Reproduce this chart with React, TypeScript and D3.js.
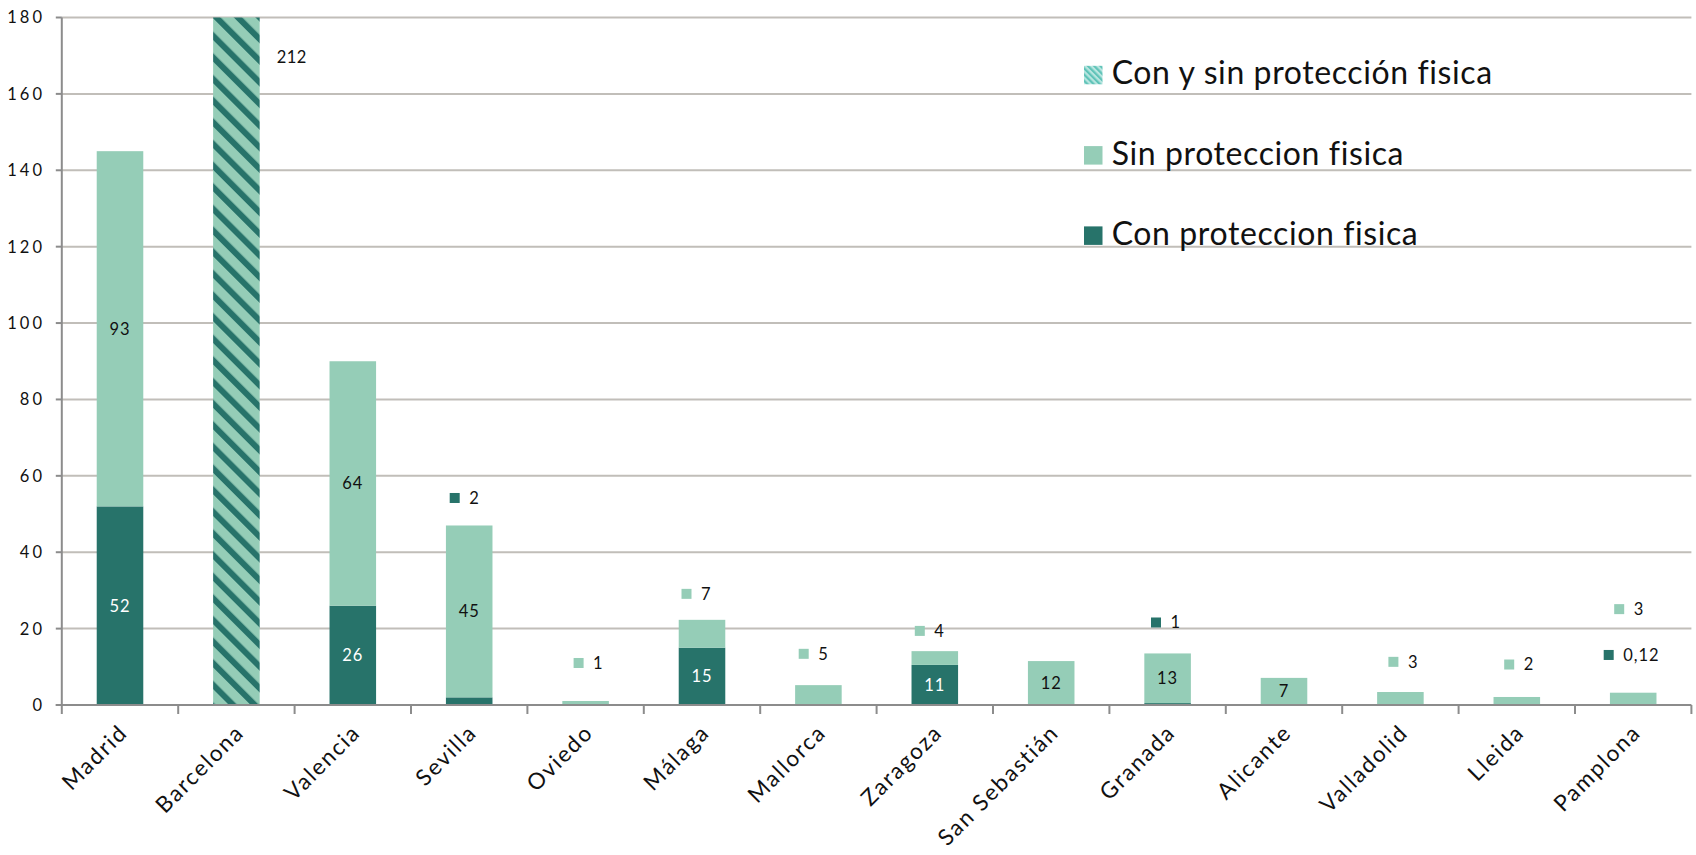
import React from "react";
import * as d3 from "d3";

const categories = ["Madrid", "Barcelona", "Valencia", "Sevilla", "Oviedo", "Málaga", "Mallorca", "Zaragoza", "San Sebastián", "Granada", "Alicante", "Valladolid", "Lleida", "Pamplona"];
const conProteccion = [52, 0, 26, 2, 0, 15, 0, 10.5, 0, 0.5, 0, 0, 0, 0.12];
const sinProteccion = [93, 0, 64, 45, 1.05, 7.3, 5.2, 3.6, 11.5, 13, 7.1, 3.4, 2.1, 3.1];
const conYSinProteccion = [0, 212, 0, 0, 0, 0, 0, 0, 0, 0, 0, 0, 0, 0];
const conLabels = ["52", "", "26", "2", "", "15", "", "11", "", "1", "", "", "", "0,12"];
const sinLabels = ["93", "", "64", "45", "1", "7", "5", "4", "12", "13", "7", "3", "2", "3"];
const conYSinLabels = ["", "212", "", "", "", "", "", "", "", "", "", "", "", ""];
const yTicks = [0, 20, 40, 60, 80, 100, 120, 140, 160, 180];
const seriesNames = ["Con y sin protección fisica", "Sin proteccion fisica", "Con proteccion fisica"];

// labels placed outside the bars (Excel "legend key" labels): y in data units, dx in px from bar centre
const outsidePlacement = [
  { cat: "Sevilla", series: "con", y: 54.2, dx: -14.5 },
  { cat: "Oviedo", series: "sin", y: 11.0, dx: -7 },
  { cat: "Málaga", series: "sin", y: 29.1, dx: -15.5 },
  { cat: "Mallorca", series: "sin", y: 13.4, dx: -14.7 },
  { cat: "Zaragoza", series: "sin", y: 19.4, dx: -15 },
  { cat: "Granada", series: "con", y: 21.6, dx: -11.6 },
  { cat: "Valladolid", series: "sin", y: 11.3, dx: -7 },
  { cat: "Lleida", series: "sin", y: 10.6, dx: -7.6 },
  { cat: "Pamplona", series: "sin", y: 25.1, dx: -14 },
  { cat: "Pamplona", series: "con", y: 13.1, dx: -24.5 },
];

const W = 1696;
const H = 855;
const DARK = "#27736a";
const LIGHT = "#95cdb7";
const GRID = "#c1beb9";
const AXIS = "#8c8c8c";
const FONT = "Lato, 'DejaVu Sans', sans-serif";

export default function App() {
  const left = 61.8;
  const right = 1691.4;
  const y0 = 705;
  const yTop = 17.5;

  const x = d3.scaleBand<string>().domain(categories).range([left, right]).paddingInner(0.6).paddingOuter(0.3);
  const y = d3.scaleLinear().domain([0, 180]).range([y0, yTop]);
  const step = x.step();
  const bw = x.bandwidth();
  const cx = (c: string) => (x(c) as number) + bw / 2;

  const isOutside = (cat: string, series: string) => outsidePlacement.some((p) => p.cat === cat && p.series === series);

  const boundaries = d3.range(categories.length + 1).map((k) => left + k * step);

  return (
    <div style={{ position: "fixed", left: 0, top: 0, width: W, height: H, background: "#fff" }}>
      <svg width={W} height={H} style={{ display: "block" }} fontFamily={FONT}>
        <defs>
          <pattern id="hatch" width={15.3} height={15.3} patternUnits="userSpaceOnUse" patternTransform="rotate(-45)">
            <rect width={15.3} height={15.3} fill={LIGHT} />
            <rect width={6} height={15.3} fill={DARK} />
          </pattern>
          <pattern id="hatchLegend" width={4.4} height={4.4} patternUnits="userSpaceOnUse" patternTransform="rotate(-45)">
            <rect width={4.4} height={4.4} fill="#b9e6e0" />
            <rect width={2.2} height={4.4} fill="#5fc3b8" />
          </pattern>
          <clipPath id="plotClip">
            <rect x={left} y={yTop} width={right - left} height={y0 - yTop} />
          </clipPath>
        </defs>

        {/* gridlines */}
        {yTicks.filter((t) => t > 0).map((t) => (
          <line key={t} x1={left} x2={right} y1={y(t)} y2={y(t)} stroke={GRID} strokeWidth={2} />
        ))}

        {/* y tick labels */}
        {yTicks.map((t) => (
          <g key={"yt" + t}>
            <line x1={left - 6} x2={left} y1={y(t)} y2={y(t)} stroke={AXIS} strokeWidth={2} />
            <text x={45} y={y(t)} dy="0.36em" textAnchor="end" fontSize={16.5} letterSpacing={3} fill="#111">
              {t}
            </text>
          </g>
        ))}

        {/* bars */}
        <g clipPath="url(#plotClip)">
          {categories.map((c, i) => {
            const bx = x(c) as number;
            const con = conProteccion[i];
            const sin = sinProteccion[i];
            const both = conYSinProteccion[i];
            return (
              <g key={"b" + c}>
                {con > 0 && <rect x={bx} width={bw} y={y(con)} height={y(0) - y(con)} fill={DARK} />}
                {sin > 0 && <rect x={bx} width={bw} y={y(con + sin)} height={y(con) - y(con + sin)} fill={LIGHT} />}
                {both > 0 && <rect x={bx} width={bw} y={y(both)} height={y(0) - y(both)} fill="url(#hatch)" />}
              </g>
            );
          })}
        </g>

        {/* axes */}
        <line x1={left} x2={left} y1={yTop} y2={y0} stroke={AXIS} strokeWidth={2} />
        <line x1={left - 6} x2={right} y1={y0} y2={y0} stroke={AXIS} strokeWidth={2} />
        {boundaries.map((bxv, k) => (
          <line key={"xt" + k} x1={bxv} x2={bxv} y1={y0} y2={y0 + 9} stroke={AXIS} strokeWidth={2} />
        ))}

        {/* category labels */}
        {categories.map((c) => (
          <text
            key={"cl" + c}
            transform={`translate(${cx(c) + 9},${734}) rotate(-45)`}
            textAnchor="end"
            fontSize={22.5}
            letterSpacing={1.8}
            fill="#111"
          >
            {c}
          </text>
        ))}

        {/* inside data labels */}
        {categories.map((c, i) => {
          const con = conProteccion[i];
          const sin = sinProteccion[i];
          const out: React.ReactNode[] = [];
          if (conLabels[i] && !isOutside(c, "con")) {
            out.push(
              <text key={"ci" + c} x={cx(c)} y={y(con / 2)} dy="0.36em" textAnchor="middle" fontSize={16.5} letterSpacing={1} fill="#fff">
                {conLabels[i]}
              </text>
            );
          }
          if (sinLabels[i] && !isOutside(c, "sin")) {
            out.push(
              <text key={"si" + c} x={cx(c)} y={y(con + sin / 2)} dy="0.36em" textAnchor="middle" fontSize={16.5} letterSpacing={1} fill="#111">
                {sinLabels[i]}
              </text>
            );
          }
          if (conYSinLabels[i]) {
            out.push(
              <text key={"bi" + c} x={cx(c) + 40.3} y={y(169.6)} dy="0.36em" textAnchor="start" fontSize={16.5} letterSpacing={0.5} fill="#111">
                {conYSinLabels[i]}
              </text>
            );
          }
          return <g key={"il" + c}>{out}</g>;
        })}

        {/* outside data labels with legend key */}
        {outsidePlacement.map((p) => {
          const i = categories.indexOf(p.cat);
          const label = p.series === "con" ? conLabels[i] : sinLabels[i];
          const sx = cx(p.cat) + p.dx;
          const sy = y(p.y);
          return (
            <g key={"ol" + p.cat + p.series}>
              <rect x={sx - 5} y={sy - 5} width={10} height={10} fill={p.series === "con" ? DARK : LIGHT} />
              <text x={sx + 14.5} y={sy} dy="0.36em" fontSize={16.5} letterSpacing={1} fill="#111">
                {label}
              </text>
            </g>
          );
        })}

        {/* legend */}
        {seriesNames.map((s, k) => {
          const base = 84.3 + k * 80.3;
          const fill = k === 0 ? "url(#hatchLegend)" : k === 1 ? LIGHT : DARK;
          return (
            <g key={"lg" + k}>
              <rect x={1084} y={base - 18.5} width={18.5} height={18.5} fill={fill} />
              <text x={1111.7} y={base} fontSize={32} letterSpacing={0.6} fill="#111">
                {s}
              </text>
            </g>
          );
        })}
      </svg>
    </div>
  );
}
